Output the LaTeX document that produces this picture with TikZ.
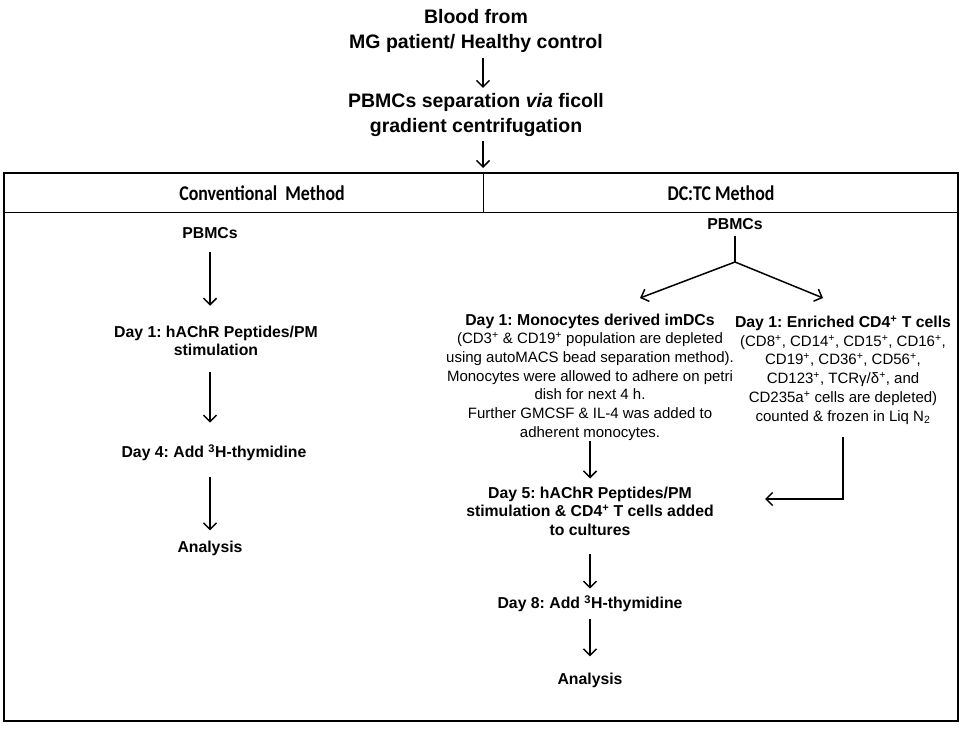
\documentclass[tikz,border=0pt]{standalone}
\usepackage{fontspec}
\setmainfont{Liberation Sans}
\newfontfamily\hdfont[FakeStretch=0.85]{Carlito}
\usetikzlibrary{arrows.meta}
\frenchspacing
\begin{document}
\begin{tikzpicture}[x=1pt,y=-1pt,
  arr/.style={line width=1.5pt, -{Straight Barb[length=6.5pt,width=13pt,line width=1.5pt]}},
  plainline/.style={line width=1.5pt},
  framebox/.style={line width=2.6pt},
  thinline/.style={line width=1pt},
  ttl/.style={font=\bfseries\fontsize{19.5}{25.5}\selectfont, align=center, inner sep=0pt},
  hdr/.style={font=\hdfont\bfseries\fontsize{21}{24}\selectfont, inner sep=0pt},
  bx/.style={font=\bfseries\fontsize{15.8}{18.5}\selectfont, align=center, inner sep=0pt},
  tx/.style={font=\fontsize{15}{18.7}\selectfont, align=center, inner sep=0pt},
]
\useasboundingbox (0,0) rectangle (965,730);

% top
\node[ttl] (blood) at (476,31) {Blood from\\MG patient/ Healthy control};
\node[ttl] (sep) at (476,115) {PBMCs separation \textit{via} ficoll\\gradient centrifugation};
\coordinate (boxtop) at (483,173);
\draw[arr, shorten <=5pt, shorten >=5pt] ([xshift=7pt]blood.south) -- ([xshift=7pt]sep.north);
\draw[arr, shorten <=4pt, shorten >=5pt] ([xshift=7pt]sep.south) -- (boxtop);

% frame
\draw[framebox] (4,173) rectangle (958,721);
\draw[thinline] (4,212) -- (958,212);
\draw[thinline] (483,173) -- (483,212);
\node[hdr] (hconv) at (262,193) {Conventional\ \ Method};
\node[hdr] (hdctc) at (721,193) {DC:TC Method};

% left column
\node[bx] (lp) at (210,233) {PBMCs};
\node[bx] (l1) at (216,341) {Day 1: hAChR Peptides/PM\\stimulation};
\node[bx] (l4) at (214,453) {Day 4: Add \textsuperscript{3}H-thymidine};
\node[bx] (la) at (210,548) {Analysis};
\draw[arr, shorten <=13pt, shorten >=20pt] (lp.south) -- (lp.south |- l1.north);
\draw[arr, shorten <=16pt, shorten >=22pt] (lp.south |- l1.south) -- (lp.south |- l4.north);
\draw[arr, shorten <=16pt, shorten >=10pt] (lp.south |- l4.south) -- (lp.south |- la.north);

% right column
\node[bx] (rp) at (735,224) {PBMCs};
\coordinate (rb) at (735,262);
\coordinate (mtip) at (640,298);
\coordinate (ttip) at (823,298);
\draw[plainline, shorten <=6pt] (rp.south) -- (rb);
\draw[arr] (rb) -- (mtip);
\draw[arr] (rb) -- (ttip);

\node[tx] (m1) at (590,377) {{\bfseries\fontsize{15.8}{18.7}\selectfont Day 1: Monocytes derived imDCs}\\
(CD3\textsuperscript{+} \& CD19\textsuperscript{+} population are depleted\\
using autoMACS bead separation method).\\
Monocytes were allowed to adhere on petri\\
dish for next 4 h.\\
Further GMCSF \& IL-4 was added to\\
adherent monocytes.};

\node[tx] (t1) at (843,370) {{\bfseries\fontsize{15.8}{18.7}\selectfont Day 1: Enriched CD4\textsuperscript{+} T cells}\\
(CD8\textsuperscript{+}, CD14\textsuperscript{+}, CD15\textsuperscript{+}, CD16\textsuperscript{+},\\
CD19\textsuperscript{+}, CD36\textsuperscript{+}, CD56\textsuperscript{+},\\
CD123\textsuperscript{+}, TCRγ/δ\textsuperscript{+}, and\\
CD235a\textsuperscript{+} cells are depleted)\\
counted \& frozen in Liq N\textsubscript{2}};

\node[bx] (d5) at (590,511) {Day 5: hAChR Peptides/PM\\stimulation \& CD4\textsuperscript{+} T cells added\\to cultures};
\node[bx] (d8) at (590,604) {Day 8: Add \textsuperscript{3}H-thymidine};
\node[bx] (ra) at (590,680) {Analysis};
\coordinate (d5in) at (765,499);

\draw[arr, shorten >=8pt] (m1.south) -- (m1.south |- d5.north);
\draw[arr, shorten <=13pt] (t1.south) |- (d5in);
\draw[arr, shorten <=18pt, shorten >=7pt] (d5.south) -- (d8.north);
\draw[arr, shorten <=7pt, shorten >=16pt] (d8.south) -- (ra.north);
\end{tikzpicture}
\end{document}
